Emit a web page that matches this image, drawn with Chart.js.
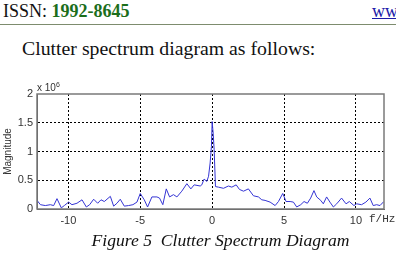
<!DOCTYPE html>
<html>
<head>
<meta charset="utf-8">
<script src="https://cdn.jsdelivr.net/npm/chart.js@4"></script>
<style>
  html, body { margin: 0; padding: 0; background: #fff; }
  body { width: 396px; height: 270px; position: relative; overflow: hidden; font-family: "Liberation Serif", "Times New Roman", serif; }
  .hdr { position: absolute; left: 3px; top: 1px; font-family: "Liberation Serif", serif; font-size: 18px; color: #111; }
  .hdr b { color: #1b6e1b; }
  .www { position: absolute; left: 372px; top: 1px; font-family: "Liberation Serif", serif; font-size: 18px; color: #1a1aa8; text-decoration: underline; white-space: nowrap; }
  .rule { position: absolute; left: 0; top: 24px; width: 396px; height: 0; border-top: 1.5px solid #7d8c6e; }
  .intro { position: absolute; left: 22px; top: 37px; font-family: "Liberation Serif", "Times New Roman", serif; font-size: 19.8px; color: #111; white-space: nowrap; }
  .caption { position: absolute; left: 0; width: 441px; top: 230px; text-align: center; font-family: "Liberation Serif", "Times New Roman", serif; font-size: 17.6px; font-style: italic; color: #111; white-space: nowrap; }
  #wrap { position: absolute; left: 0; top: 80px; width: 396px; height: 150px; }
  .exp { position: absolute; left: 37px; top: 81px; font-family: "Liberation Sans", Arial, sans-serif; font-size: 10px; color: #333; }
  .exp sup { font-size: 7px; }
  .unit { position: absolute; left: 369px; top: 213px; font-family: "Liberation Mono", monospace; font-size: 11px; color: #333; }
</style>
</head>
<body>
<div class="hdr">ISSN: <b>1992-8645</b></div>
<div class="www">www</div>
<div class="rule"></div>
<div class="intro">Clutter spectrum diagram as follows:</div>
<div id="wrap"><canvas id="spec" width="396" height="150"></canvas></div>
<div class="exp">x 10<sup>6</sup></div>
<div class="unit">f/Hz</div>
<div class="caption">Figure 5&nbsp; Clutter Spectrum Diagram</div>
<script>
// frequency (Hz) and magnitude (x 10^6)
const freqHz = [
  -12.18, -11.94, -11.60, -11.25, -11.02, -10.79, -10.49, -10.28, -9.98, -9.75,
  -9.40, -9.05, -8.75, -8.52, -8.24, -7.96, -7.73, -7.50, -7.08, -6.85,
  -6.62, -6.39, -6.11, -5.81, -5.51, -5.23, -5.00, -4.72, -4.49, -4.19,
  -3.84, -3.66, -3.43, -3.19, -2.96, -2.69, -2.45, -2.11, -1.76, -1.48,
  -1.25, -0.83, -0.72, -0.56, -0.37, -0.25, -0.14, -0.05, 0.00, 0.07,
  0.14, 0.23, 0.44, 0.79, 1.13, 1.37, 1.67, 1.90, 2.18, 2.52,
  2.87, 3.22, 3.45, 3.68, 4.03, 4.38, 4.61, 4.91, 5.14, 5.42,
  5.65, 5.88, 6.16, 6.39, 6.62, 6.85, 7.08, 7.27, 7.55, 7.73,
  7.96, 8.19, 8.43, 8.66, 9.00, 9.31, 9.54, 9.86, 10.05, 10.39,
  10.69, 10.97, 11.20, 11.44, 11.67, 11.94
];
const magnitude = [
  0.15, 0.075, 0.06, 0.075, 0.06, 0.18, 0.02, 0.06, 0.12, 0.075,
  0.10, 0.16, 0.035, 0.075, 0.17, 0.10, 0.16, 0.13, 0.22, 0.05,
  0.10, 0.17, 0.05, 0.06, 0.075, 0.12, 0.27, 0.16, 0.035, 0.21,
  0.21, 0.19, 0.075, 0.35, 0.21, 0.25, 0.21, 0.31, 0.44, 0.35,
  0.42, 0.40, 0.42, 0.52, 0.48, 0.57, 0.80, 1.09, 1.52, 1.32,
  1.03, 0.39, 0.38, 0.36, 0.40, 0.38, 0.42, 0.34, 0.31, 0.35,
  0.23, 0.21, 0.16, 0.15, 0.12, 0.06, 0.13, 0.27, 0.13, 0.13,
  0.12, 0.035, 0.075, 0.13, 0.10, 0.19, 0.32, 0.21, 0.15, 0.09,
  0.21, 0.12, 0.035, 0.09, 0.19, 0.09, 0.13, 0.06, 0.09, 0.075,
  0.12, 0.19, 0.06, 0.075, 0.06, 0.13
];
const xTicks = [-10, -5, 0, 5, 10];
const yTicks = [0, 0.5, 1, 1.5, 2];

const tickFont = { family: 'Liberation Sans, Arial, sans-serif', size: 11 };

// frame around the plot area (matlab style box)
const boxPlugin = {
  id: 'box',
  afterDatasetsDraw(chart) {
    const a = chart.chartArea, ctx = chart.ctx;
    ctx.save();
    ctx.strokeStyle = '#7a7a7a';
    ctx.lineWidth = 1.5;
    ctx.strokeRect(a.left, a.top, a.right - a.left, a.bottom - a.top);
    ctx.restore();
  }
};

const edgeless = (vals) => (c) => {
  const v = c.tick ? c.tick.value : null;
  return (v === vals[0] || v === vals[vals.length - 1]) ? 'rgba(0,0,0,0)' : '#000';
};

new Chart(document.getElementById('spec'), {
  type: 'line',
  data: {
    datasets: [{
      data: freqHz.map((f, i) => ({ x: f, y: magnitude[i] })),
      borderColor: '#3434d4',
      borderWidth: 1,
      pointRadius: 0,
      tension: 0,
      fill: false
    }]
  },
  options: {
    responsive: false,
    animation: false,
    layout: { padding: { top: 14, right: 12, left: 0, bottom: 0 } },
    plugins: { legend: { display: false }, tooltip: { enabled: false } },
    scales: {
      x: {
        type: 'linear',
        min: -12.18,
        max: 11.95,
        afterBuildTicks: s => { s.ticks = xTicks.map(v => ({ value: v })); },
        afterFit: s => { s.height = 21; },
        grid: { color: '#000', lineWidth: 1, drawTicks: false },
        border: { dash: [2, 2], color: '#555' },
        ticks: { padding: 5, font: tickFont, color: '#333', callback: v => String(v) }
      },
      y: {
        min: 0,
        max: 2,
        afterBuildTicks: s => { s.ticks = yTicks.map(v => ({ value: v })); },
        afterFit: s => { s.width = 37; },
        grid: { color: edgeless(yTicks), lineWidth: 1, drawTicks: false },
        border: { dash: [2, 2], color: '#555' },
        ticks: { padding: 4, font: tickFont, color: '#333', callback: v => String(v) },
        title: {
          display: true,
          text: 'Magnitude',
          color: '#333',
          font: { family: 'Liberation Sans, Arial, sans-serif', size: 10 },
          padding: { top: 2, bottom: 0 }
        }
      }
    }
  },
  plugins: [boxPlugin]
});
</script>
</body>
</html>
